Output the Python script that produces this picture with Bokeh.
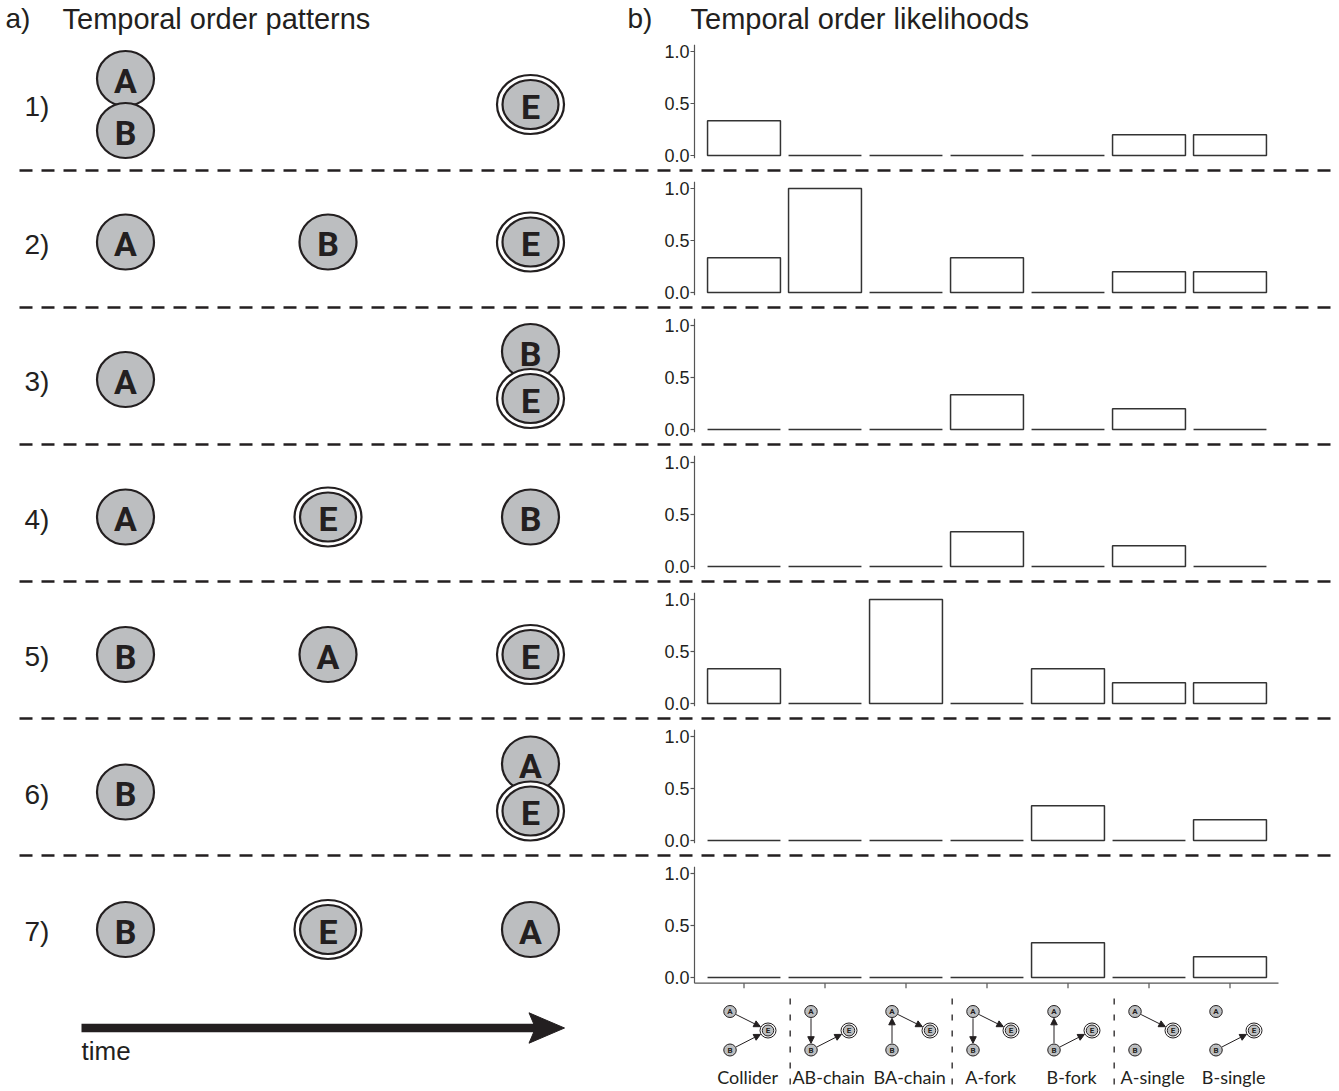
import math
from bokeh.plotting import figure
from bokeh.models import Range1d, ColumnDataSource, Arrow, NormalHead
from bokeh.core.properties import value
from bokeh.embed import file_html
from bokeh.resources import INLINE

# ---------------- data ----------------
panel_tags = ["a)", "b)"]
panel_titles = ["Temporal order patterns", "Temporal order likelihoods"]
pattern_labels = ["1)", "2)", "3)", "4)", "5)", "6)", "7)"]
# time slot (0 = first, 1 = middle, 2 = last) of each event in each pattern
slot_A = [0, 0, 0, 0, 1, 2, 2]
slot_B = [0, 1, 2, 2, 0, 0, 0]
slot_E = [2, 2, 2, 1, 2, 2, 1]
structures = ["Collider", "AB-chain", "BA-chain", "A-fork", "B-fork", "A-single", "B-single"]
likelihoods = [
    [1/3, 0, 0, 0, 0, 0.2, 0.2],
    [1/3, 1.0, 0, 1/3, 0, 0.2, 0.2],
    [0, 0, 0, 1/3, 0, 0.2, 0],
    [0, 0, 0, 1/3, 0, 0.2, 0],
    [1/3, 0, 1.0, 0, 1/3, 0.2, 0.2],
    [0, 0, 0, 0, 1/3, 0, 0.2],
    [0, 0, 0, 0, 1/3, 0, 0.2],
]
structure_edges = [
    [("A", "E"), ("B", "E")],
    [("A", "B"), ("B", "E")],
    [("B", "A"), ("A", "E")],
    [("A", "B"), ("A", "E")],
    [("B", "A"), ("B", "E")],
    [("A", "E")],
    [("B", "E")],
]
tick_values = [0.0, 0.5, 1.0]
tick_labels = ["0.0", "0.5", "1.0"]
time_label = "time"

# ---------------- layout ----------------
W, H = 1339, 1091
INK = "#231f20"
GREY = "#bcbec0"
ROW0, ROW_STEP = 104, 137.5          # pixel y of row 1, row spacing
SLOT0, SLOT_STEP = 125, 202.5        # pixel x of first time slot, slot spacing
ZERO0, PANEL_STEP, UNIT = 155, 137, 104   # bar panels
BAR0, BAR_STEP = 743.5, 81

p = figure(width=W, height=H, x_range=Range1d(0, W), y_range=Range1d(H, 0),
           x_axis_type=None, y_axis_type=None, toolbar_location=None,
           output_backend="svg", min_border=0, outline_line_color=None,
           background_fill_color="white", border_fill_color="white")

p.extra_x_ranges["slot"] = Range1d(-SLOT0 / SLOT_STEP, (W - SLOT0) / SLOT_STEP)
p.extra_y_ranges["row"] = Range1d(1 + (H - ROW0) / ROW_STEP, 1 - ROW0 / ROW_STEP)
p.extra_x_ranges["cat"] = Range1d(-BAR0 / BAR_STEP, (W - BAR0) / BAR_STEP)
for k in range(len(likelihoods)):
    z = ZERO0 + k * PANEL_STEP
    p.extra_y_ranges[f"p{k}"] = Range1d((z - H) / UNIT, z / UNIT)

sans = value("Liberation Sans")

# ---------------- titles ----------------
p.text(x=[5, 627], y=[18, 18], text=panel_tags, text_font=sans, text_font_size="28px",
       text_color=INK, text_baseline="middle")
p.text(x=[62, 690], y=[18, 18], text=panel_titles, text_font=sans, text_font_size="29px",
       text_color=INK, text_baseline="middle")

# ---------------- dashed separators ----------------
dash_y = [ZERO0 + k * PANEL_STEP + 15 for k in range(len(likelihoods) - 1)]
p.segment(x0=[19] * len(dash_y), x1=[W] * len(dash_y), y0=dash_y, y1=dash_y,
          line_color=INK, line_width=2.5, line_dash="13 9")

# ---------------- left panel: temporal patterns ----------------
nodes = {"A": dict(x=[], y=[], ty=[]), "B": dict(x=[], y=[], ty=[]), "E": dict(x=[], y=[], ty=[])}
for r, (a, b, e) in enumerate(zip(slot_A, slot_B, slot_E), start=1):
    slots = {"A": a, "B": b, "E": e}
    off = {"A": 0, "B": 0, "E": 0}
    if a == b:
        off["A"], off["B"] = -26, 26
    if a == e:
        off["A"], off["E"] = -28, 19
    if b == e:
        off["B"], off["E"] = -28, 19
    for n in "ABE":
        yy = r + off[n] / ROW_STEP
        nodes[n]["x"].append(slots[n])
        nodes[n]["y"].append(yy)
        nodes[n]["ty"].append(yy + 2 / ROW_STEP)

rng = dict(x_range_name="slot", y_range_name="row")
for n in "AB":
    p.ellipse(x=nodes[n]["x"], y=nodes[n]["y"], width=57, height=55,
              width_units="screen", height_units="screen",
              fill_color=GREY, line_color=INK, line_width=2.2, **rng)
p.ellipse(x=nodes["E"]["x"], y=nodes["E"]["y"], width=67, height=59,
          width_units="screen", height_units="screen",
          fill_color="white", line_color=INK, line_width=2.2, **rng)
p.ellipse(x=nodes["E"]["x"], y=nodes["E"]["y"], width=56, height=49,
          width_units="screen", height_units="screen",
          fill_color=GREY, line_color=INK, line_width=2.2, **rng)
for n in "ABE":
    p.text(x=nodes[n]["x"], y=nodes[n]["ty"], text=[n] * len(nodes[n]["x"]),
           text_font=value("Roboto"), text_font_style="bold", text_font_size="34px",
           text_color=INK, text_align="center", text_baseline="middle", **rng)

label_x = (24 - SLOT0) / SLOT_STEP
p.text(x=[label_x] * len(pattern_labels),
       y=[r + 2 / ROW_STEP for r in range(1, len(pattern_labels) + 1)],
       text=pattern_labels, text_font=sans, text_font_size="28px", text_color=INK,
       text_baseline="middle", **rng)

# time arrow
p.segment(x0=[81], x1=[536], y0=[1027.5], y1=[1027.5], line_color=INK, line_width=8.5)
p.patch(x=[564, 528.5, 535, 528.5], y=[1027.5, 1012.3, 1027.5, 1042.7],
        fill_color=INK, line_color=INK, line_width=1)
p.text(x=[81], y=[1050], text=[time_label], text_font=sans, text_font_size="26px",
       text_color=INK, text_baseline="middle")

# ---------------- right panel: likelihood bars ----------------
idx = list(range(len(structures)))
AX = (694 - BAR0) / BAR_STEP
last = len(likelihoods) - 1
for k, vals in enumerate(likelihoods):
    yr = f"p{k}"
    src = ColumnDataSource(dict(x=idx, top=vals))
    p.vbar(x="x", top="top", bottom=0, width=0.9, source=src, fill_color="white",
           line_color="#333333", line_width=1.5, x_range_name="cat", y_range_name=yr)
    ybot = -0.055 if k == last else -0.026
    p.segment(x0=[AX], x1=[AX], y0=[ybot], y1=[1.065], line_color="#555555",
              line_width=1.2, x_range_name="cat", y_range_name=yr)
    p.segment(x0=[AX - 4 / BAR_STEP] * 3, x1=[AX] * 3, y0=tick_values, y1=tick_values,
              line_color="#555555", line_width=1.2, x_range_name="cat", y_range_name=yr)
    p.text(x=[AX - 5 / BAR_STEP] * 3, y=tick_values, text=tick_labels,
           text_font=sans, text_font_size="18px", text_color=INK, text_align="right",
           text_baseline="middle", x_range_name="cat", y_range_name=yr)

# bottom category axis
yr = f"p{last}"
p.segment(x0=[AX], x1=[(1278 - BAR0) / BAR_STEP], y0=[-0.055], y1=[-0.055],
          line_color="#555555", line_width=1.2, x_range_name="cat", y_range_name=yr)
p.segment(x0=idx, x1=idx, y0=[-0.055] * len(idx), y1=[-0.055 - 5 / UNIT] * len(idx),
          line_color="#555555", line_width=1.2, x_range_name="cat", y_range_name=yr)

# structure icons
node_px = {"A": (-14, 1011), "B": (-14, 1049.5), "E": (24, 1030)}
node_r = {"A": 6.8, "B": 6.8, "E": 8.5}
for n in "ABE":
    xs = [i + node_px[n][0] / BAR_STEP for i in idx]
    ys = [node_px[n][1]] * len(idx)
    if n == "E":
        p.ellipse(x=xs, y=ys, width=16, height=15, width_units="screen", height_units="screen",
                  fill_color="white", line_color=INK, line_width=1, x_range_name="cat")
        p.ellipse(x=xs, y=ys, width=11.5, height=11, width_units="screen", height_units="screen",
                  fill_color=GREY, line_color=INK, line_width=1, x_range_name="cat")
    else:
        p.ellipse(x=xs, y=ys, width=12.5, height=12, width_units="screen", height_units="screen",
                  fill_color=GREY, line_color=INK, line_width=1, x_range_name="cat")
    p.text(x=xs, y=ys, text=[n] * len(xs), text_font=value("Roboto"),
           text_font_style="bold", text_font_size="8px", text_color=INK,
           text_align="center", text_baseline="middle", x_range_name="cat")

xs0, ys0, xs1, ys1 = [], [], [], []
for i, edges in enumerate(structure_edges):
    for u, v in edges:
        ux, uy = node_px[u]
        vx, vy = node_px[v]
        dx, dy = vx - ux, vy - uy
        L = math.hypot(dx, dy)
        sx, sy = ux + dx / L * node_r[u], uy + dy / L * node_r[u]
        ex, ey = vx - dx / L * node_r[v], vy - dy / L * node_r[v]
        xs0.append(i + sx / BAR_STEP); ys0.append(sy)
        xs1.append(i + ex / BAR_STEP); ys1.append(ey)
arrow_src = ColumnDataSource(dict(x0=xs0, y0=ys0, x1=xs1, y1=ys1))
p.add_layout(Arrow(end=NormalHead(size=6.5, fill_color=INK, line_color=INK, line_width=1),
                   x_start="x0", y_start="y0", x_end="x1", y_end="y1", source=arrow_src,
                   line_color=INK, line_width=1, x_range_name="cat"))

sep = [0.57, 2.57, 4.57]
p.segment(x0=sep, x1=sep, y0=[998] * 3, y1=[H] * 3, line_color=INK, line_width=1.3,
          line_dash="6 10", x_range_name="cat")

p.text(x=[i + 0.045 for i in idx], y=[1076] * len(idx), text=structures,
       text_font=value("Lato"), text_font_size="18px", text_color=INK,
       text_align="center", text_baseline="middle", x_range_name="cat")

open("out.html", "w").write(file_html(p, INLINE))
